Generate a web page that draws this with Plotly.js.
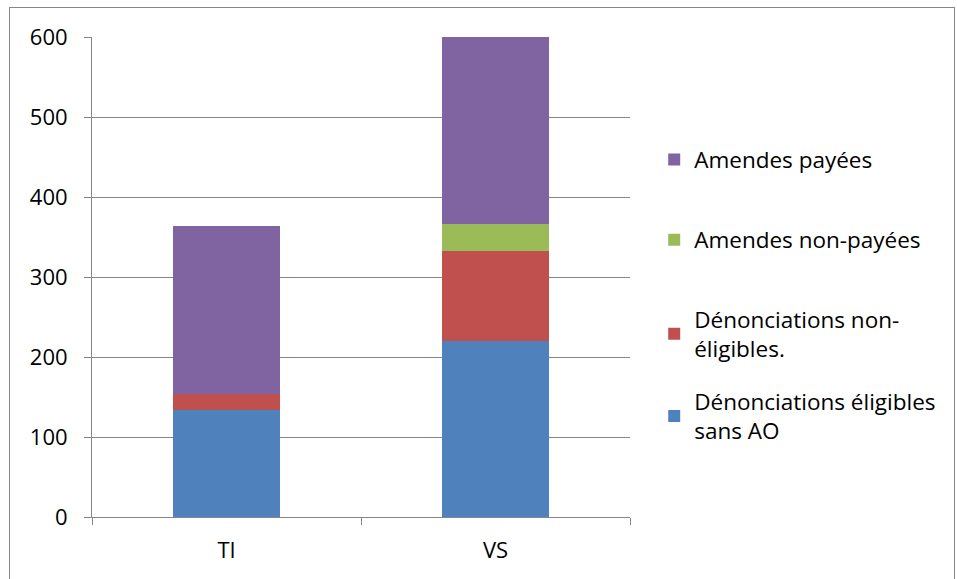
<!DOCTYPE html>
<html>
<head>
<meta charset="utf-8">
<script src="https://cdn.plot.ly/plotly-3.0.1.min.js"></script>
<style>
html,body{margin:0;padding:0;background:#fff;}
#wrap{position:relative;width:957px;height:579px;overflow:hidden;}
#chart{position:absolute;left:0;top:0;width:957px;height:579px;}
#frame{position:absolute;left:9px;top:7px;width:944px;height:600px;border:1px solid #868686;pointer-events:none;}
</style>
</head>
<body>
<div id="wrap"><div id="chart"></div><div id="frame"></div></div>
<script>
const categories = ["TI", "VS"];
const seriesNames = ["Dénonciations éligibles<br>sans AO", "Dénonciations non-<br>éligibles.", "Amendes non-payées", "Amendes payées"];
const eligiblesSansAO = [134, 220];
const nonEligibles = [20, 112];
const amendesNonPayees = [0, 34];
const amendesPayees = [210, 234];
const yTicks = [0, 100, 200, 300, 400, 500, 600];

const colors = ["#4F81BD", "#C0504D", "#9BBB59", "#8064A2"];
const values = [eligiblesSansAO, nonEligibles, amendesNonPayees, amendesPayees];
const legendIds = ["legend", "legend2", "legend3", "legend4"];
const legendY = [0.210, 0.381, 0.577, 0.744];

const traces = values.map((v, i) => ({
  type: "bar",
  x: categories,
  y: v,
  name: seriesNames[i],
  legend: legendIds[i],
  marker: {color: colors[i], line: {width: 0}},
  hoverinfo: "x+y+name"
}));

const tickFont = {family: "Open Sans, sans-serif", size: 22, color: "#000"};
const legFont = {family: "Open Sans, sans-serif", size: 22.5, color: "#000"};

const layout = {
  width: 957, height: 579,
  margin: {l: 92, r: 327, t: 37, b: 62, pad: 0},
  paper_bgcolor: "rgba(0,0,0,0)",
  plot_bgcolor: "#fff",
  barmode: "stack",
  bargap: 0.6,
  font: tickFont,
  showlegend: true,
  xaxis: {
    type: "category",
    showline: true, linecolor: "#868686", linewidth: 1,
    ticks: "outside", ticklen: 7, tickcolor: "#868686",
    tickson: "boundaries",
    showgrid: false,
    tickfont: tickFont,
    ticklabelstandoff: 14,
    fixedrange: true
  },
  yaxis: {
    range: [0, 600],
    tickvals: yTicks,
    ticktext: yTicks.map(String),
    showline: true, linecolor: "#868686", linewidth: 1,
    ticks: "outside", ticklen: 7, tickcolor: "#868686",
    showgrid: true, gridcolor: "#868686", gridwidth: 1,
    zeroline: false,
    tickfont: tickFont,
    ticklabelstandoff: 12,
    fixedrange: true
  }
};
legendIds.forEach((id, i) => {
  layout[id] = {
    x: 1.045, xanchor: "left", y: legendY[i], yanchor: "middle",
    font: legFont, itemwidth: 30, bgcolor: "rgba(0,0,0,0)"
  };
});

Plotly.newPlot("chart", traces, layout, {displayModeBar: false, staticPlot: true});
</script>
</body>
</html>
